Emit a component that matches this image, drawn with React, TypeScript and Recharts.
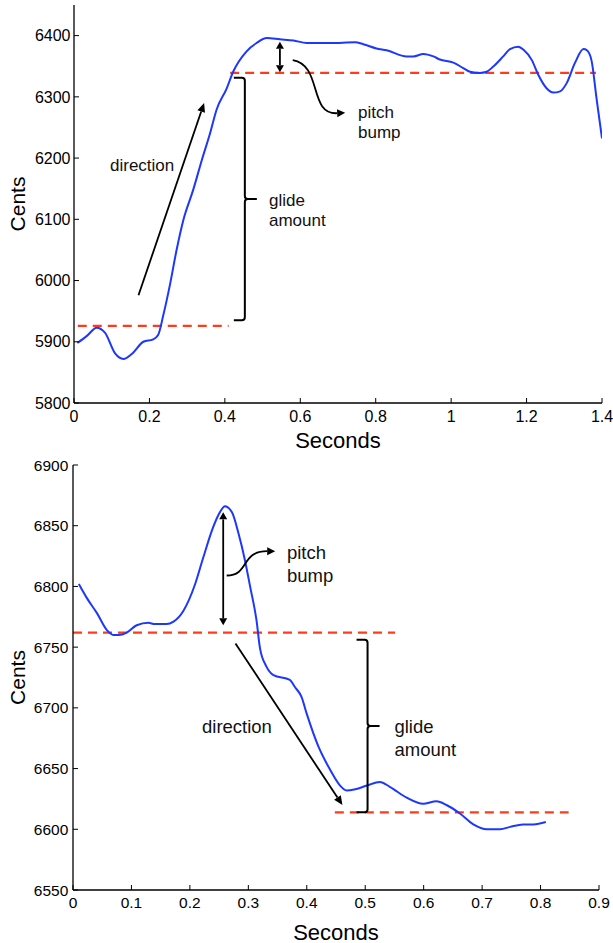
import React from 'react';
import { LineChart, Line, XAxis, YAxis, ReferenceLine, ReferenceDot, Label } from 'recharts';

// ---------- Top chart data ----------
const topSeconds = [0.009, 0.035, 0.06, 0.082, 0.109, 0.131, 0.153, 0.184, 0.21, 0.223, 0.237, 0.255, 0.272, 0.29, 0.316, 0.339, 0.361, 0.378, 0.405, 0.422, 0.457, 0.484, 0.511, 0.546, 0.582, 0.617, 0.68, 0.745, 0.767, 0.802, 0.829, 0.882, 0.9, 0.926, 0.953, 0.97, 1.006, 1.032, 1.05, 1.076, 1.094, 1.111, 1.138, 1.156, 1.178, 1.192, 1.214, 1.231, 1.253, 1.271, 1.289, 1.306, 1.328, 1.351, 1.36, 1.372, 1.386, 1.4];
const topCents = [5898, 5910, 5923, 5915, 5881, 5872, 5880, 5900, 5904, 5911, 5944, 5995, 6050, 6099, 6148, 6197, 6241, 6279, 6314, 6341, 6374, 6388, 6396, 6394, 6392, 6388, 6388, 6389, 6386, 6379, 6376, 6366, 6366, 6370, 6366, 6361, 6356, 6347, 6341, 6339, 6341, 6349, 6366, 6378, 6382, 6377, 6360, 6336, 6314, 6307, 6309, 6322, 6355, 6378, 6376, 6360, 6295, 6232];
const topXTicks = [0, 0.2, 0.4, 0.6, 0.8, 1, 1.2, 1.4];
const topYTicks = [5800, 5900, 6000, 6100, 6200, 6300, 6400];

// ---------- Bottom chart data ----------
const botSeconds = [0.01, 0.023, 0.041, 0.058, 0.069, 0.078, 0.092, 0.109, 0.129, 0.14, 0.16, 0.172, 0.189, 0.209, 0.223, 0.24, 0.249, 0.26, 0.272, 0.283, 0.294, 0.303, 0.314, 0.32, 0.331, 0.343, 0.371, 0.38, 0.391, 0.4, 0.42, 0.44, 0.457, 0.468, 0.483, 0.503, 0.525, 0.542, 0.571, 0.599, 0.622, 0.639, 0.662, 0.685, 0.708, 0.731, 0.748, 0.77, 0.788, 0.809];
const botCents = [6802, 6791, 6778, 6764, 6760, 6760, 6762, 6768, 6770, 6769, 6769, 6771, 6780, 6802, 6824, 6849, 6859, 6866, 6861, 6844, 6822, 6800, 6772, 6749, 6734, 6727, 6723, 6717, 6709, 6695, 6668, 6649, 6636, 6632, 6633, 6636, 6639, 6635, 6626, 6621, 6623, 6620, 6613, 6604, 6600, 6600, 6602, 6604, 6604, 6606];
const botXTicks = [0, 0.1, 0.2, 0.3, 0.4, 0.5, 0.6, 0.7, 0.8, 0.9];
const botYTicks = [6550, 6600, 6650, 6700, 6750, 6800, 6850, 6900];

// ---------- Annotations (data coordinates) ----------
// [x1, y1, x2, y2]
const topDashes = [[0.01, 5926, 0.41, 5926], [0.414, 6339, 1.384, 6339]];
const topDirection = [0.171, 5976, 0.345, 6290];
const topBump = [0.546, 6390, 0.546, 6340];
const topCurl = [0.58, 6360, 0.719, 6274];
const topGlide = [0.453, 6331, 0.453, 5935];
const topTexts = [
  { x: 0.0955, y: 6189, lines: ['direction'] },
  { x: 0.517, y: 6131, lines: ['glide', 'amount'] },
  { x: 0.753, y: 6275, lines: ['pitch', 'bump'] },
];

const botDashes = [[0.0, 6762, 0.551, 6762], [0.448, 6614, 0.848, 6614]];
const botDirection = [0.278, 6753, 0.461, 6620];
const botBump = [0.257, 6861, 0.257, 6768];
const botCurl = [0.263, 6809, 0.346, 6829];
const botGlide = [0.504, 6756, 0.504, 6614];
const botTexts = [
  { x: 0.2207, y: 6685, lines: ['direction'] },
  { x: 0.55, y: 6685, lines: ['glide', 'amount'] },
  { x: 0.366, y: 6828, lines: ['pitch', 'bump'] },
];

const topData = topSeconds.map((t, i) => ({ t, c: topCents[i] }));
const botData = botSeconds.map((t, i) => ({ t, c: botCents[i] }));

const FONT = '"Liberation Sans", Arial, Helvetica, sans-serif';
const BLUE = '#1d37ff';
const RED = '#ff3b1c';
const INK = '#000';

function head(x1: number, y1: number, x2: number, y2: number, len = 9, half = 4) {
  const a = Math.atan2(y2 - y1, x2 - x1);
  const bx = x2 - len * Math.cos(a);
  const by = y2 - len * Math.sin(a);
  const px = -Math.sin(a) * half;
  const py = Math.cos(a) * half;
  return { pts: `${x2},${y2} ${bx + px},${by + py} ${bx - px},${by - py}`, bx, by };
}

const arrowShape = (p: any) => {
  const h = head(p.x1, p.y1, p.x2, p.y2);
  return (
    <g>
      <line x1={p.x1} y1={p.y1} x2={h.bx} y2={h.by} stroke={INK} strokeWidth={1.8} />
      <polygon points={h.pts} fill={INK} />
    </g>
  );
};

const doubleArrowShape = (p: any) => {
  const h2 = head(p.x1, p.y1, p.x2, p.y2, 7, 4);
  const h1 = head(p.x2, p.y2, p.x1, p.y1, 7, 4);
  return (
    <g>
      <line x1={h1.bx} y1={h1.by} x2={h2.bx} y2={h2.by} stroke={INK} strokeWidth={1.8} />
      <polygon points={h1.pts} fill={INK} />
      <polygon points={h2.pts} fill={INK} />
    </g>
  );
};

const makeCurl = (c1x: number, c1y: number, c2x: number, c2y: number) => (p: any) => {
  const p1x = p.x1 + c1x, p1y = p.y1 + c1y;
  const p2x = p.x2 + c2x, p2y = p.y2 + c2y;
  const h = head(p2x, p2y, p.x2, p.y2, 8, 4);
  return (
    <g>
      <path d={`M${p.x1},${p.y1} C${p1x},${p1y} ${p2x},${p2y} ${h.bx},${h.by}`} fill="none" stroke={INK} strokeWidth={1.8} />
      <polygon points={h.pts} fill={INK} />
    </g>
  );
};

const braceShape = (p: any) => {
  const x = p.x1;
  const y1 = Math.min(p.y1, p.y2);
  const y2 = Math.max(p.y1, p.y2);
  const ym = (y1 + y2) / 2;
  const d = `M${x - 11},${y1} L${x - 3},${y1} Q${x},${y1} ${x},${y1 + 3} L${x},${ym - 3} Q${x},${ym} ${x + 3},${ym} L${x + 12},${ym} M${x + 3},${ym} Q${x},${ym} ${x},${ym + 3} L${x},${y2 - 3} Q${x},${y2} ${x - 3},${y2} L${x - 11},${y2}`;
  return <path d={d} fill="none" stroke={INK} strokeWidth={2} />;
};

const makeText = (lines: string[], size: number, lh: number) => (p: any) => (
  <text x={p.cx} y={p.cy} fontFamily={FONT} fontSize={size} fill="#111" dominantBaseline="central">
    {lines.map((s, i) => (
      <tspan key={i} x={p.cx} dy={i === 0 ? 0 : lh}>{s}</tspan>
    ))}
  </text>
);

const emptyTick = () => <g />;

const xTitle = (size: number, dy: number) => (props: any) => {
  const vb = props.viewBox;
  return (
    <text x={vb.x + vb.width / 2} y={vb.y + dy} textAnchor="middle" fontFamily={FONT} fontSize={size} fill={INK}>
      Seconds
    </text>
  );
};

const yTitle = (size: number) => (props: any) => {
  const vb = props.viewBox;
  const cx = vb.x + 25;
  const cy = vb.y + vb.height / 2;
  return (
    <text x={cx} y={cy} transform={`rotate(-90, ${cx}, ${cy})`} textAnchor="middle" fontFamily={FONT} fontSize={size} fill={INK}>
      Cents
    </text>
  );
};

const ax = { x: 'b', y: 'l' };

export default function App() {
  return (
    <div style={{ position: 'absolute', left: 0, top: 0, width: 613, height: 943, background: '#fff' }}>
      <div style={{ position: 'absolute', left: 0, top: 0 }}>
        <LineChart width={613} height={460} data={topData} margin={{ top: 5, right: 11, bottom: 0, left: 0 }}>
          <XAxis xAxisId="b" dataKey="t" type="number" domain={[0, 1.4]} ticks={topXTicks} allowDataOverflow
            height={57} tickSize={-5} tickMargin={13} interval={0}
            axisLine={{ stroke: INK, strokeWidth: 1.3 }} tickLine={{ stroke: INK }}
            tick={{ fill: INK, fontSize: 16, fontFamily: FONT }}>
            <Label content={xTitle(22, 44.5)} />
          </XAxis>
          <XAxis xAxisId="t" dataKey="t" type="number" domain={[0, 1.4]} ticks={topXTicks} allowDataOverflow
            orientation="top" height={0} tickSize={-5} interval={0}
            axisLine={{ stroke: INK, strokeWidth: 1.3 }} tickLine={{ stroke: INK }} tick={emptyTick} />
          <YAxis yAxisId="l" type="number" domain={[5800, 6450]} ticks={topYTicks} allowDataOverflow
            width={74} tickSize={-5} tickMargin={8.5} interval={0}
            axisLine={{ stroke: INK, strokeWidth: 1.3 }} tickLine={{ stroke: INK }}
            tick={{ fill: INK, fontSize: 16, fontFamily: FONT }}>
            <Label content={yTitle(21)} />
          </YAxis>
          <YAxis yAxisId="r" orientation="right" type="number" domain={[5800, 6450]} ticks={topYTicks} allowDataOverflow
            width={0} tickSize={-5} interval={0}
            axisLine={{ stroke: INK, strokeWidth: 1.3 }} tickLine={{ stroke: INK }} tick={emptyTick} />
          {topDashes.map((s, i) => (
            <ReferenceLine key={'d' + i} xAxisId={ax.x} yAxisId={ax.y}
              segment={[{ x: s[0], y: s[1] }, { x: s[2], y: s[3] }]}
              stroke={RED} strokeWidth={2.2} strokeDasharray="9 6" />
          ))}
          <Line xAxisId="b" yAxisId="l" dataKey="c" type="monotone" stroke={BLUE} strokeWidth={2} dot={false} isAnimationActive={false} />
          <ReferenceLine xAxisId={ax.x} yAxisId={ax.y} segment={[{ x: topDirection[0], y: topDirection[1] }, { x: topDirection[2], y: topDirection[3] }]} shape={arrowShape} />
          <ReferenceLine xAxisId={ax.x} yAxisId={ax.y} segment={[{ x: topBump[0], y: topBump[1] }, { x: topBump[2], y: topBump[3] }]} shape={doubleArrowShape} />
          <ReferenceLine xAxisId={ax.x} yAxisId={ax.y} segment={[{ x: topCurl[0], y: topCurl[1] }, { x: topCurl[2], y: topCurl[3] }]} shape={makeCurl(30, 5, -37, 2)} />
          <ReferenceLine xAxisId={ax.x} yAxisId={ax.y} segment={[{ x: topGlide[0], y: topGlide[1] }, { x: topGlide[2], y: topGlide[3] }]} shape={braceShape} />
          {topTexts.map((t, i) => (
            <ReferenceDot key={'t' + i} xAxisId={ax.x} yAxisId={ax.y} x={t.x} y={t.y} r={0} shape={makeText(t.lines, 17, 20)} />
          ))}
        </LineChart>
      </div>
      <div style={{ position: 'absolute', left: 0, top: 450 }}>
        <LineChart width={613} height={493} data={botData} margin={{ top: 15, right: 14, bottom: 0, left: 0 }}>
          <XAxis xAxisId="b" dataKey="t" type="number" domain={[0, 0.9]} ticks={botXTicks} allowDataOverflow
            height={53} tickSize={-5} tickMargin={11.7} interval={0}
            axisLine={{ stroke: INK, strokeWidth: 1.3 }} tickLine={{ stroke: INK }}
            tick={{ fill: INK, fontSize: 15.5, fontFamily: FONT }}>
            <Label content={xTitle(22, 49.5)} />
          </XAxis>
          <XAxis xAxisId="t" dataKey="t" type="number" domain={[0, 0.9]} ticks={botXTicks} allowDataOverflow
            orientation="top" height={0} tickSize={-5} interval={0}
            axisLine={{ stroke: INK, strokeWidth: 1.3 }} tickLine={{ stroke: INK }} tick={emptyTick} />
          <YAxis yAxisId="l" type="number" domain={[6550, 6900]} ticks={botYTicks} allowDataOverflow
            width={73} tickSize={-5} tickMargin={9.7} interval={0}
            axisLine={{ stroke: INK, strokeWidth: 1.3 }} tickLine={{ stroke: INK }}
            tick={{ fill: INK, fontSize: 15.5, fontFamily: FONT }}>
            <Label content={yTitle(21)} />
          </YAxis>
          <YAxis yAxisId="r" orientation="right" type="number" domain={[6550, 6900]} ticks={botYTicks} allowDataOverflow
            width={0} tickSize={-5} interval={0}
            axisLine={{ stroke: INK, strokeWidth: 1.3 }} tickLine={{ stroke: INK }} tick={emptyTick} />
          {botDashes.map((s, i) => (
            <ReferenceLine key={'d' + i} xAxisId={ax.x} yAxisId={ax.y}
              segment={[{ x: s[0], y: s[1] }, { x: s[2], y: s[3] }]}
              stroke={RED} strokeWidth={2.2} strokeDasharray="9 6" />
          ))}
          <Line xAxisId="b" yAxisId="l" dataKey="c" type="monotone" stroke={BLUE} strokeWidth={2} dot={false} isAnimationActive={false} />
          <ReferenceLine xAxisId={ax.x} yAxisId={ax.y} segment={[{ x: botDirection[0], y: botDirection[1] }, { x: botDirection[2], y: botDirection[3] }]} shape={arrowShape} />
          <ReferenceLine xAxisId={ax.x} yAxisId={ax.y} segment={[{ x: botBump[0], y: botBump[1] }, { x: botBump[2], y: botBump[3] }]} shape={doubleArrowShape} />
          <ReferenceLine xAxisId={ax.x} yAxisId={ax.y} segment={[{ x: botCurl[0], y: botCurl[1] }, { x: botCurl[2], y: botCurl[3] }]} shape={makeCurl(23, 0, -35, 0)} />
          <ReferenceLine xAxisId={ax.x} yAxisId={ax.y} segment={[{ x: botGlide[0], y: botGlide[1] }, { x: botGlide[2], y: botGlide[3] }]} shape={braceShape} />
          {botTexts.map((t, i) => (
            <ReferenceDot key={'t' + i} xAxisId={ax.x} yAxisId={ax.y} x={t.x} y={t.y} r={0} shape={makeText(t.lines, 18.5, 23)} />
          ))}
        </LineChart>
      </div>
    </div>
  );
}
